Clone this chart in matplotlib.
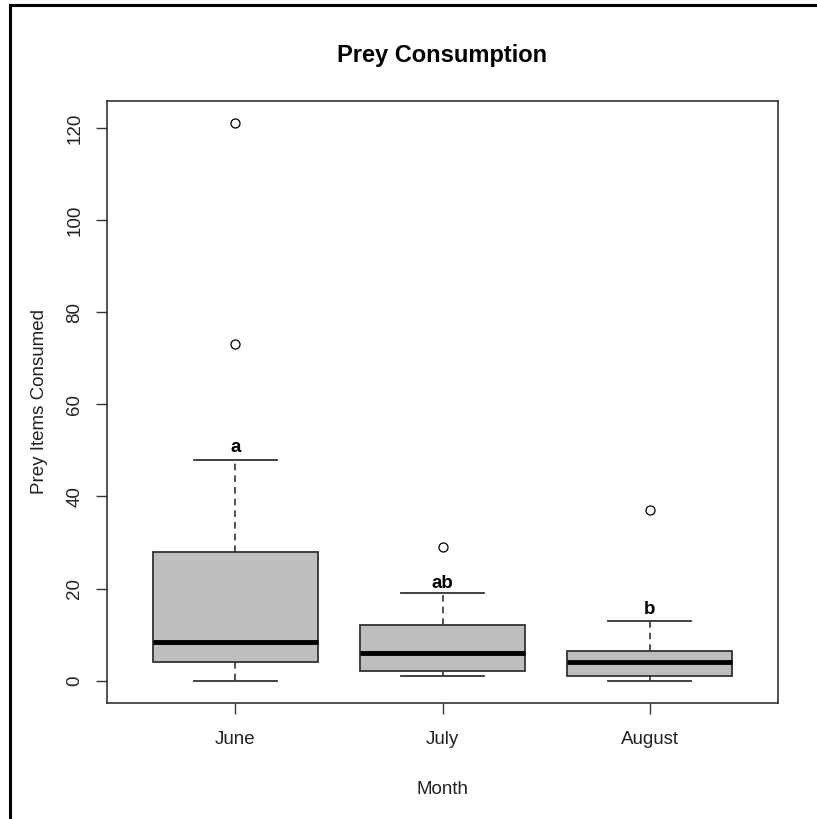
import matplotlib
matplotlib.use("Agg")
import matplotlib.pyplot as plt
from matplotlib.lines import Line2D

plt.rcParams['font.family'] = ['Liberation Sans', 'DejaVu Sans']

# data
months = ['June', 'July', 'August']
whisker_low = [0, 1, 0]
q1 = [4, 2, 1]
medians = [8.5, 6, 4]
q3 = [28, 12, 6.4]
whisker_high = [48, 19, 13]
outliers = [[73, 121], [29], [37]]
letters = ['a', 'ab', 'b']
letter_y = [50.6, 21.1, 15.4]

stats = []
for i, m in enumerate(months):
    stats.append(dict(label=m, whislo=whisker_low[i], q1=q1[i], med=medians[i],
                      q3=q3[i], whishi=whisker_high[i], fliers=outliers[i]))

fig = plt.figure(figsize=(8.17, 8.19), dpi=100)
ax = fig.add_axes([107/817, 1 - 703/819, (778 - 107)/817, (703 - 101)/819])

line_col = '#333333'
ax.bxp(stats, positions=[1, 2, 3], widths=0.8, patch_artist=True,
       boxprops=dict(facecolor='#bebebe', edgecolor=line_col, linewidth=1.3),
       medianprops=dict(color='black', linewidth=3.5),
       whiskerprops=dict(color=line_col, linewidth=1.2, linestyle=(0, (4, 3))),
       capprops=dict(color=line_col, linewidth=1.3),
       capwidths=0.4,
       flierprops=dict(marker='o', markerfacecolor='white', markeredgecolor='black',
                       markersize=6.5, markeredgewidth=0.9))

for i, lab in enumerate(letters):
    ax.text(i + 1, letter_y[i], lab, ha='center', va='center',
            fontsize=13.5, fontweight='bold', color='black')

ax.set_xlim(0.38, 3.62)
ax.set_ylim(-4.84, 125.84)
ax.set_yticks([0, 20, 40, 60, 80, 100, 120])
ax.set_yticklabels(['0', '20', '40', '60', '80', '100', '120'], rotation=90, va='center')
ax.set_xticks([1, 2, 3])
ax.set_xticklabels(months)
ax.tick_params(axis='both', direction='out', length=8, width=1, color=line_col,
               labelsize=13.5, labelcolor='#222222', pad=9)
ax.tick_params(axis='x', pad=12)
for s in ax.spines.values():
    s.set_color(line_col)
    s.set_linewidth(1.2)

ax.set_title('Prey Consumption', fontsize=17, fontweight='bold', pad=28)
ax.set_xlabel('Month', fontsize=13.5, color='#222222', labelpad=24)
ax.set_ylabel('Prey Items Consumed', fontsize=13.5, color='#222222', labelpad=13)

# outer border (top and left only)
fig.add_artist(Line2D([10/817, 10/817], [0, 1 - 5/819], transform=fig.transFigure,
                      color='black', linewidth=2.2))
fig.add_artist(Line2D([10/817, 1], [1 - 5/819, 1 - 5/819], transform=fig.transFigure,
                      color='black', linewidth=2.2))

fig.savefig('out.png', dpi=100)
